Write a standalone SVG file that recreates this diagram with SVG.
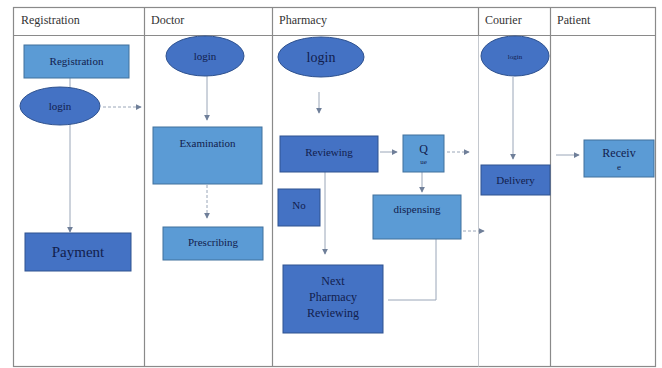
<svg xmlns="http://www.w3.org/2000/svg" width="662" height="368" viewBox="0 0 662 368">
<defs>
<style>
.lane{fill:none;stroke:#8a8a8a;stroke-width:1.2}
.lanel{stroke:#c4c8ce;stroke-width:1}
.hdr{font-family:"Liberation Serif",serif;font-size:12px;fill:#333}
.lt{fill:#5B9BD5;stroke:#41719C;stroke-width:1}
.dk{fill:#4472C4;stroke:#2F528F;stroke-width:1}
.el{fill:#4472C4;stroke:#2F528F;stroke-width:1}
.t{font-family:"Liberation Serif",serif;font-size:11px;fill:#12204d;text-anchor:middle}
.c{fill:none;stroke:#9aa6b8;stroke-width:1}
.d{stroke-dasharray:3 2}
</style>
<marker id="ah" viewBox="0 0 8 8" refX="7" refY="4" markerWidth="6" markerHeight="6" orient="auto" markerUnits="userSpaceOnUse">
<path d="M0,0 L8,4 L0,8 z" fill="#6f7f99"/>
</marker>
</defs>
<rect width="662" height="368" fill="#fff"/>
<g id="lanes">
<rect class="lane" x="13.5" y="7.5" width="642" height="359"/>
<line class="lane" x1="13.5" y1="35.5" x2="655.5" y2="35.5"/>
<line class="lane" x1="144.5" y1="7.5" x2="144.5" y2="366.5"/>
<line class="lane" x1="272.5" y1="7.5" x2="272.5" y2="366.5"/>
<line class="lanel" x1="478.5" y1="36" x2="478.5" y2="366.5"/>
<line class="lane" x1="478.5" y1="7.5" x2="478.5" y2="35.5"/>
<line class="lane" x1="550.5" y1="7.5" x2="550.5" y2="366.5"/>
<text class="hdr" x="21" y="24">Registration</text>
<text class="hdr" x="151" y="24">Doctor</text>
<text class="hdr" x="279" y="24">Pharmacy</text>
<text class="hdr" x="485" y="24">Courier</text>
<text class="hdr" x="557" y="24">Patient</text>
</g>
<g id="connectors">
<path class="c" d="M70,78 V232" marker-end="url(#ah)"/>
<path class="c d" d="M103,107 H141" marker-end="url(#ah)"/>
<path class="c" d="M207,76 V120" marker-end="url(#ah)"/>
<path class="c d" d="M207,185 V218" marker-end="url(#ah)"/>
<path class="c" d="M319,92 V113" marker-end="url(#ah)"/>
<path class="c" d="M380,152 H397" marker-end="url(#ah)"/>
<path class="c d" d="M447,152 H469" marker-end="url(#ah)"/>
<path class="c" d="M422,172 V192" marker-end="url(#ah)"/>
<path class="c" d="M325,172 V254" marker-end="url(#ah)"/>
<path class="c d" d="M463,231 H484" marker-end="url(#ah)"/>
<path class="c" d="M436,239 V300 H388"/>
<path class="c" d="M513,77 V159" marker-end="url(#ah)"/>
<path class="c" d="M556,155 H579" marker-end="url(#ah)"/>
</g>
<g id="registration"><rect class="lt" x="24" y="45" width="105" height="33"/><text class="t" x="76.5" y="65">Registration</text></g>
<g id="reg-login"><ellipse class="el" cx="60" cy="106" rx="40" ry="19"/><text class="t" x="60" y="110">login</text></g>
<g id="payment"><rect class="dk" x="25" y="233" width="106" height="38"/><text class="t" x="78" y="257" style="font-size:15px">Payment</text></g>
<g id="doc-login"><ellipse class="el" cx="205" cy="56" rx="39" ry="20"/><text class="t" x="205" y="60">login</text></g>
<g id="examination"><rect class="lt" x="153" y="127" width="109" height="57"/><text class="t" x="207.5" y="147">Examination</text></g>
<g id="prescribing"><rect class="lt" x="163" y="227" width="100" height="33"/><text class="t" x="213" y="246">Prescribing</text></g>
<g id="ph-login"><ellipse class="el" cx="321" cy="57" rx="43" ry="20"/><text class="t" x="321" y="62" style="font-size:14px">login</text></g>
<g id="reviewing"><rect class="dk" x="280" y="136" width="98" height="36"/><text class="t" x="329" y="156">Reviewing</text></g>
<g id="queue"><rect class="lt" x="403" y="135" width="41" height="37"/><text class="t" x="423.5" y="153" style="font-size:12px">Q</text><text class="t" x="423.5" y="164" style="font-size:7px">ue</text></g>
<g id="no"><rect class="dk" x="278" y="189" width="42" height="37"/><text class="t" x="299" y="209">No</text></g>
<g id="dispensing"><rect class="lt" x="373" y="195" width="88" height="44"/><text class="t" x="417" y="213">dispensing</text></g>
<g id="next-pharmacy"><rect class="dk" x="283" y="265" width="100" height="68"/><text class="t" x="333" y="285" style="font-size:12px">Next</text><text class="t" x="333" y="301" style="font-size:12px">Pharmacy</text><text class="t" x="333" y="317" style="font-size:12px">Reviewing</text></g>
<g id="courier-login"><ellipse class="el" cx="515" cy="56" rx="34" ry="20"/><text class="t" x="515" y="59" style="font-size:7px">login</text></g>
<g id="delivery"><rect class="dk" x="481" y="165" width="69" height="30"/><text class="t" x="515.5" y="184">Delivery</text></g>
<g id="receive"><rect class="lt" x="584" y="140" width="70" height="37"/><text class="t" x="619" y="157" style="font-size:12px">Receiv</text><text class="t" x="619" y="170" style="font-size:9px">e</text></g>
</svg>
